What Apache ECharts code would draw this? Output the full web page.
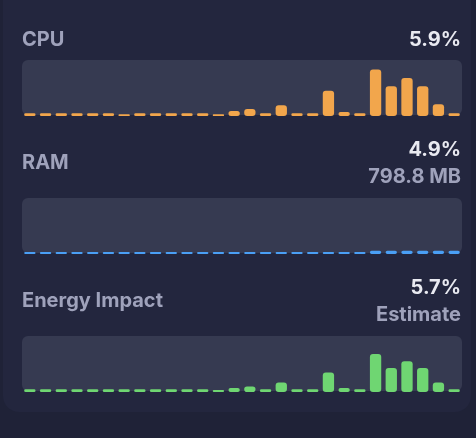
<!DOCTYPE html>
<html>
<head>
<meta charset="utf-8">
<script src="https://cdn.jsdelivr.net/npm/echarts@6/dist/echarts.min.js"></script>
<style>
html, body { margin: 0; padding: 0; background: #1f2237; }
#chart { width: 476px; height: 438px; }
</style>
</head>
<body>
<div id="chart"></div>
<script>
// samples, oldest -> newest (share of each chart's height, 0-100)
let samples = []
for (let i = 1; i <= 28; i++) samples.push(i)

let cpuValues = [4.8, 4.8, 4.8, 4.8, 4.8, 4.8, 3, 4.8, 4.8, 4.8, 4.8, 4.8, 3, 9, 12.5, 4.8, 19, 4.8, 4.8, 45, 7, 4.8, 83, 53, 68, 53, 21, 4.8]
let ramValues = [3.6, 3.6, 3.6, 3.6, 3.6, 3.6, 3.6, 3.6, 3.6, 3.6, 3.6, 3.6, 3.6, 3.6, 3.6, 3.6, 3.6, 3.6, 3.6, 3.6, 3.6, 3.6, 6, 6, 6, 6, 6, 6]
let energyValues = [4.8, 4.8, 4.8, 4.8, 4.8, 4.8, 4.8, 4.8, 4.8, 4.8, 4.8, 4.8, 3.6, 7.2, 10, 4.8, 17, 4.8, 4.8, 35, 7.2, 4.8, 68, 43, 55, 43, 17, 4.8]

let labels = ['CPU', 'RAM', 'Energy Impact']
let mainTexts = ['5.9%', '4.9%', '5.7%']
let subTexts = ['', '798.8 MB', 'Estimate']

let colors = ['#f2a64c', '#4a9ff5', '#6fd672']
let boxTops = [60, 198, 336]
let boxHeight = 56

let font = '"Inter", "Noto Sans", sans-serif'
let labelColor = '#9fa2bb'
let valueColor = '#e9eaf1'

let allValues = [cpuValues, ramValues, energyValues]
let grids = [], xAxes = [], yAxes = [], series = []
let graphics = [
    { type: 'rect', z: -10, shape: { x: 3, y: -30, width: 468, height: 442, r: 16 }, style: { fill: '#23263e' } }
]

boxTops.forEach((top, i) => {
    grids.push({ left: 22, right: 14, top: top, height: boxHeight })
    xAxes.push({ type: 'category', gridIndex: i, data: samples, show: false })
    yAxes.push({ type: 'value', gridIndex: i, min: 0, max: 100, show: false })
    series.push({
        type: 'bar',
        xAxisIndex: i,
        yAxisIndex: i,
        data: allValues[i],
        barCategoryGap: '28%',
        itemStyle: { color: colors[i], borderRadius: 3 },
        silent: true
    })
    graphics.push({ type: 'rect', z: -5, shape: { x: 22, y: top, width: 440, height: boxHeight - 1, r: 6 }, style: { fill: '#363a51' } })
})

// header texts
let labelY = [40, 163, 301]
let mainY = [40, 150, 288]
let subY = [0, 177, 315]
labels.forEach((t, i) => {
    graphics.push({ type: 'text', x: 22, y: labelY[i], style: { text: t, font: '700 20px ' + font, fill: labelColor, textVerticalAlign: 'middle' } })
    graphics.push({ type: 'text', x: 461, y: mainY[i], style: { text: mainTexts[i], font: '700 20px ' + font, fill: valueColor, textAlign: 'right', textVerticalAlign: 'middle' } })
    if (subTexts[i]) {
        graphics.push({ type: 'text', x: 461, y: subY[i], style: { text: subTexts[i], font: '700 20px ' + font, fill: labelColor, textAlign: 'right', textVerticalAlign: 'middle' } })
    }
})

let option = {
    backgroundColor: '#1f2237',
    animation: false,
    grid: grids,
    xAxis: xAxes,
    yAxis: yAxes,
    series: series,
    graphic: graphics
}

var myChart = echarts.init(document.getElementById('chart'))
myChart.setOption(option)
window.addEventListener('resize', function() {
    myChart.resize()
})
</script>
</body>
</html>
